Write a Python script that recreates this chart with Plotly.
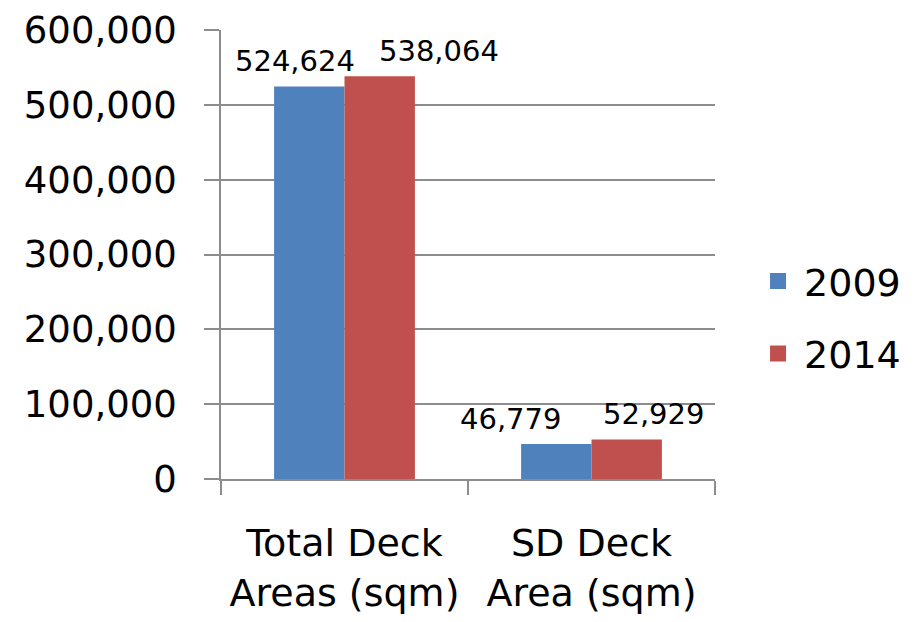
import plotly.graph_objects as go

# ==========================================================
# DATA
# ==========================================================

CATEGORIES = ["Total Deck<br>Areas (sqm)", "SD Deck<br>Area (sqm)"]
YEARS = ["2009", "2014"]
VALUES_2009 = [524624, 46779]
VALUES_2014 = [538064, 52929]
Y_TICKS = [0, 100000, 200000, 300000, 400000, 500000, 600000]

COLOURS = {"2009": "#4F81BD", "2014": "#C0504D"}
GRID = "#8C8C8C"
FONT = "DejaVu Sans"

# label x offsets (px) to mimic the original's label placement
LABEL_SHIFT = {"2009": [-50, -81], "2014": [94, 62]}

fig = go.Figure()

series = {"2009": VALUES_2009, "2014": VALUES_2014}

for year in YEARS:
    fig.add_trace(
        go.Bar(
            x=CATEGORIES,
            y=series[year],
            name=year,
            marker=dict(color=COLOURS[year], line=dict(width=0)),
            showlegend=False,
        )
    )

# Legend entries with larger square swatches
for year in YEARS:
    fig.add_trace(
        go.Scatter(
            x=[None],
            y=[None],
            mode="markers",
            name=year,
            legendgroup=year,
            marker=dict(symbol="square", size=25, color=COLOURS[year]),
        )
    )

# Data labels
for year in YEARS:
    for cat, val, shift in zip(CATEGORIES, series[year], LABEL_SHIFT[year]):
        fig.add_annotation(
            x=cat,
            y=val,
            text=f"{val:,}",
            showarrow=False,
            yanchor="bottom",
            xshift=shift,
            yshift=6,
            font=dict(family=FONT, size=29, color="black"),
        )

# page body adds an 8px offset, so margins are trimmed by that amount
fig.update_layout(
    width=915,
    height=622,
    margin=dict(l=213, r=208, t=22, b=151, autoexpand=False),
    paper_bgcolor="white",
    plot_bgcolor="white",
    barmode="group",
    bargap=0.43,
    bargroupgap=0,
    font=dict(family=FONT, size=37, color="black"),
    legend=dict(
        x=1.075,
        y=0.36,
        xanchor="left",
        yanchor="middle",
        tracegroupgap=20,
        font=dict(family=FONT, size=38, color="black"),
        itemwidth=42,
    ),
)

fig.update_yaxes(
    range=[0, 600000],
    tickvals=Y_TICKS,
    tickformat=",",
    showgrid=True,
    gridcolor=GRID,
    gridwidth=1.5,
    ticks="outside",
    ticklen=15,
    tickcolor=GRID,
    tickwidth=1.5,
    showline=True,
    linecolor=GRID,
    linewidth=1.5,
    ticklabelstandoff=20,
    zeroline=False,
    automargin=False,
)

fig.update_xaxes(
    showline=True,
    linecolor=GRID,
    linewidth=1.5,
    ticks="outside",
    tickson="boundaries",
    ticklen=14,
    tickcolor=GRID,
    tickwidth=1.5,
    ticklabelstandoff=30,
    tickangle=0,
    automargin=False,
    tickfont=dict(family=FONT, size=38),
)

fig.write_html("out.html")
